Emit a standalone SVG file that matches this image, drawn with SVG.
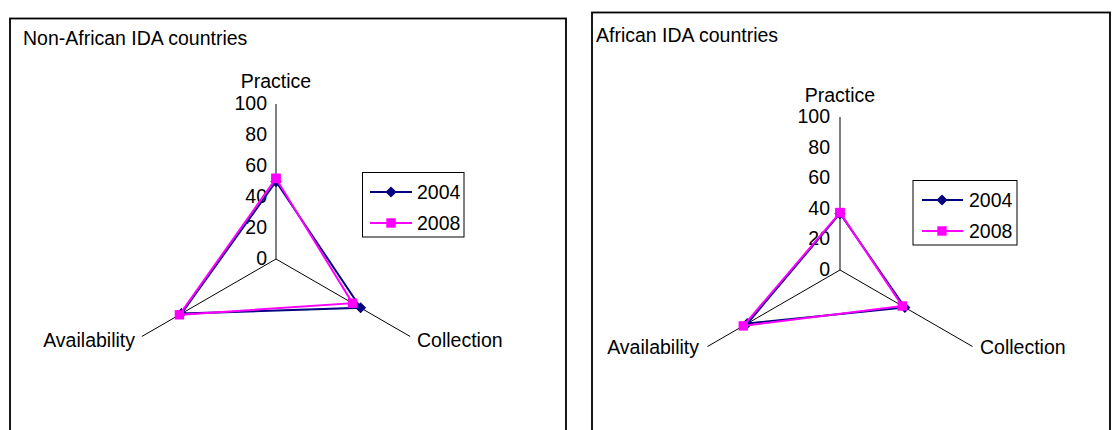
<svg xmlns="http://www.w3.org/2000/svg" width="1114" height="430" viewBox="0 0 1114 430">
  <defs>
    <style>
      text { font-family: "Liberation Sans", Arial, sans-serif; font-size: 19.5px; fill: #000; }
      .frame { fill: #fff; stroke: #000; stroke-width: 1.8; }
      .axis { stroke: #000; stroke-width: 1; fill: none; }
      .tick { text-anchor: end; }
      .mid { text-anchor: middle; }
      .end { text-anchor: end; }
      .s2004 { stroke: #000080; stroke-width: 2; fill: none; marker-start: url(#dia); marker-mid: url(#dia); marker-end: url(#dia); }
      .s2008 { stroke: #FF00FF; stroke-width: 2; fill: none; marker-start: url(#sq); marker-mid: url(#sq); marker-end: url(#sq); }
      .key2004 { stroke: #000080; stroke-width: 2; fill: none; marker-mid: url(#dia); }
      .key2008 { stroke: #FF00FF; stroke-width: 2; fill: none; marker-mid: url(#sq); }
      .legend { fill: #fff; stroke: #000; stroke-width: 1; }
    </style>
    <!-- series point markers -->
    <marker id="dia" viewBox="-6 -6 12 12" markerWidth="12" markerHeight="12" markerUnits="userSpaceOnUse" refX="0" refY="0" orient="0">
      <path d="M0,-5.5 L5.5,0 L0,5.5 L-5.5,0 Z" fill="#000080"/>
    </marker>
    <marker id="sq" viewBox="-6 -6 12 12" markerWidth="12" markerHeight="12" markerUnits="userSpaceOnUse" refX="0" refY="0" orient="0">
      <rect x="-4.7" y="-4.7" width="9.4" height="9.4" fill="#FF00FF"/>
    </marker>
  </defs>

  <rect width="1114" height="430" fill="#fff"/>

  <!-- Left panel: Non-African IDA countries -->
  <g id="chart-non-african">
    <rect class="frame" x="10" y="18.5" width="556" height="420"/>
    <text x="23" y="45">Non-African IDA countries</text>

    <g id="axes-left">
      <line class="axis" x1="276" y1="259" x2="276" y2="104"/>
      <line class="axis" x1="276" y1="259" x2="141.8" y2="336.5"/>
      <line class="axis" x1="276" y1="259" x2="410.2" y2="336.5"/>
      <text class="tick" x="267" y="110">100</text>
      <text class="tick" x="267" y="141">80</text>
      <text class="tick" x="267" y="172">60</text>
      <text class="tick" x="267" y="203">40</text>
      <text class="tick" x="267" y="234">20</text>
      <text class="tick" x="267" y="265">0</text>
      <text class="mid" x="276" y="88">Practice</text>
      <text class="end" x="135" y="347">Availability</text>
      <text x="417" y="347">Collection</text>
    </g>

    <g id="series-left">
      <polyline class="s2004" points="276,181.5 360.6,307.8 181.4,313.6 276,181.5"/>
      <polyline class="s2008" points="276,178.4 352.5,303.2 179.4,314.8 276,178.4"/>
    </g>

    <g id="legend-left">
      <rect class="legend" x="362.5" y="172.5" width="101.5" height="64.5"/>
      <path class="key2004" d="M370,192 L391,192 L412,192"/>
      <path class="key2008" d="M370,223 L391,223 L412,223"/>
      <text x="417" y="199">2004</text>
      <text x="417" y="230">2008</text>
    </g>
  </g>

  <!-- Right panel: African IDA countries -->
  <g id="chart-african">
    <rect class="frame" x="592" y="12.5" width="518" height="430"/>
    <text x="596" y="42">African IDA countries</text>

    <g id="axes-right">
      <line class="axis" x1="840" y1="270" x2="840" y2="117"/>
      <line class="axis" x1="840" y1="270" x2="707.5" y2="346.5"/>
      <line class="axis" x1="840" y1="270" x2="972.5" y2="346.5"/>
      <text class="tick" x="830" y="123">100</text>
      <text class="tick" x="830" y="153.6">80</text>
      <text class="tick" x="830" y="184.2">60</text>
      <text class="tick" x="830" y="214.8">40</text>
      <text class="tick" x="830" y="245.4">20</text>
      <text class="tick" x="830" y="276">0</text>
      <text class="mid" x="840" y="102">Practice</text>
      <text class="end" x="699" y="354">Availability</text>
      <text x="980" y="354">Collection</text>
    </g>

    <g id="series-right">
      <polyline class="s2004" points="840,213.4 904.9,307.5 747.3,323.5 840,213.4"/>
      <polyline class="s2008" points="840,212.6 902.3,306 743.3,325.9 840,212.6"/>
    </g>

    <g id="legend-right">
      <rect class="legend" x="913" y="180.5" width="104" height="64.5"/>
      <path class="key2004" d="M922,200 L942,200 L963,200"/>
      <path class="key2008" d="M922,231 L942,231 L963,231"/>
      <text x="969" y="207">2004</text>
      <text x="969" y="238">2008</text>
    </g>
  </g>
</svg>
